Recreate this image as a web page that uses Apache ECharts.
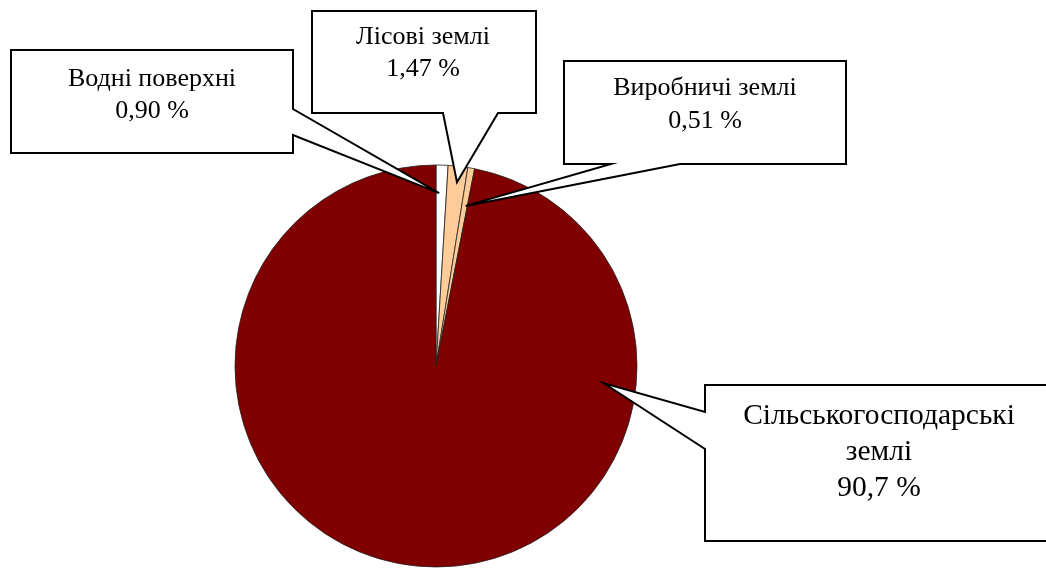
<!DOCTYPE html>
<html>
<head>
<meta charset="utf-8">
<script src="https://cdn.jsdelivr.net/npm/echarts@6/dist/echarts.min.js"></script>
<style>
html,body{margin:0;padding:0;background:#fff;}
#chart{width:1046px;height:568px;}
</style>
</head>
<body>
<div id="chart"></div>
<script>
// ---- data ----
const categories = ['Водні поверхні', 'Лісові землі', 'Виробничі землі', 'Сільськогосподарські землі'];
const shares = [0.90, 1.47, 0.51, 90.7];
const sliceColors = ['#FFFFFF', '#FFCC99', '#FFCC99', '#800000'];

// ---- layout (not data) ----
const CX = 436, CY = 366, R = 201;
const FONT = 'Liberation Serif, Times New Roman, serif';
// callout boxes: [left, top, right, bottom], pointer side and base, label centre, font
const callouts = [
  {box: [11, 50, 293, 153], side: 'right', base: [109, 135], text: [152, 95], tip: [0.3, 0.86], fs: 26, lh: 32},
  {box: [312, 11, 536, 113], side: 'bottom', base: [498, 443], text: [423, 53], tip: [0.54, 0.92], fs: 26, lh: 32},
  {box: [564, 61, 846, 164], side: 'bottom', base: [680, 611], text: [705, 105], tip: [0.7, 0.81], fs: 26, lh: 33},
  {box: [705, 385, 1052, 541], side: 'left', base: [449, 412], text: [879, 452], tip: [0.243, 0.84], fs: 29.5, lh: 36}
];

const fmt = v => (v >= 10 ? v.toFixed(1) : v.toFixed(2)).replace('.', ',') + ' %';
const wrapName = n => n.length > 20 ? n.replace(' ', '\n') : n;

const total = shares.reduce((a, b) => a + b, 0);
let acc = 0;
const sectors = shares.map(v => { const s = acc / total * 360; acc += v; return [s, acc / total * 360]; });

function polar(aDeg, rf) {
  const a = aDeg * Math.PI / 180;
  return [CX + R * rf * Math.sin(a), CY - R * rf * Math.cos(a)];
}

const graphics = callouts.map((c, i) => {
  const [l, t, r, b] = c.box;
  const [s, e] = sectors[i];
  const tip = polar(s + (e - s) * c.tip[0], c.tip[1]);
  let pts;
  if (c.side === 'right') {
    pts = [[l, t], [r, t], [r, c.base[0]], tip, [r, c.base[1]], [r, b], [l, b]];
  } else if (c.side === 'bottom') {
    pts = [[l, t], [r, t], [r, b], [c.base[0], b], tip, [c.base[1], b], [l, b]];
  } else {
    pts = [[l, t], [r, t], [r, b], [l, b], [l, c.base[0]], tip, [l, c.base[1]]];
  }
  return {
    type: 'polygon', z: 3, silent: true,
    shape: {points: pts},
    style: {fill: '#fff', stroke: '#000', lineWidth: 2, lineJoin: 'miter'}
  };
});

const data = categories.map((n, i) => ({name: n, value: shares[i], itemStyle: {color: sliceColors[i]}}));

const chart = echarts.init(document.getElementById('chart'), null, {renderer: 'canvas'});
chart.setOption({
  animation: false,
  backgroundColor: '#fff',
  graphic: graphics,
  series: [
    {
      type: 'pie', z: 2, silent: true,
      center: [CX, CY], radius: R,
      startAngle: 90, clockwise: true,
      data: data,
      itemStyle: {borderColor: '#222', borderWidth: 0.8},
      label: {show: false}, labelLine: {show: false},
      emphasis: {disabled: true}
    },
    {
      type: 'pie', z: 4, silent: true,
      center: [CX, CY], radius: R,
      startAngle: 90, clockwise: true,
      data: categories.map((n, i) => ({
        name: n, value: shares[i],
        label: {fontSize: callouts[i].fs, lineHeight: callouts[i].lh}
      })),
      itemStyle: {color: 'rgba(0,0,0,0)', borderWidth: 0},
      label: {
        show: true,
        formatter: p => wrapName(p.name) + '\n' + fmt(p.value),
        fontFamily: FONT, color: '#000',
        align: 'center'
      },
      labelLine: {show: false},
      labelLayout: p => ({
        x: callouts[p.dataIndex].text[0],
        y: callouts[p.dataIndex].text[1],
        align: 'center', verticalAlign: 'middle'
      }),
      emphasis: {disabled: true}
    }
  ]
});
</script>
</body>
</html>
